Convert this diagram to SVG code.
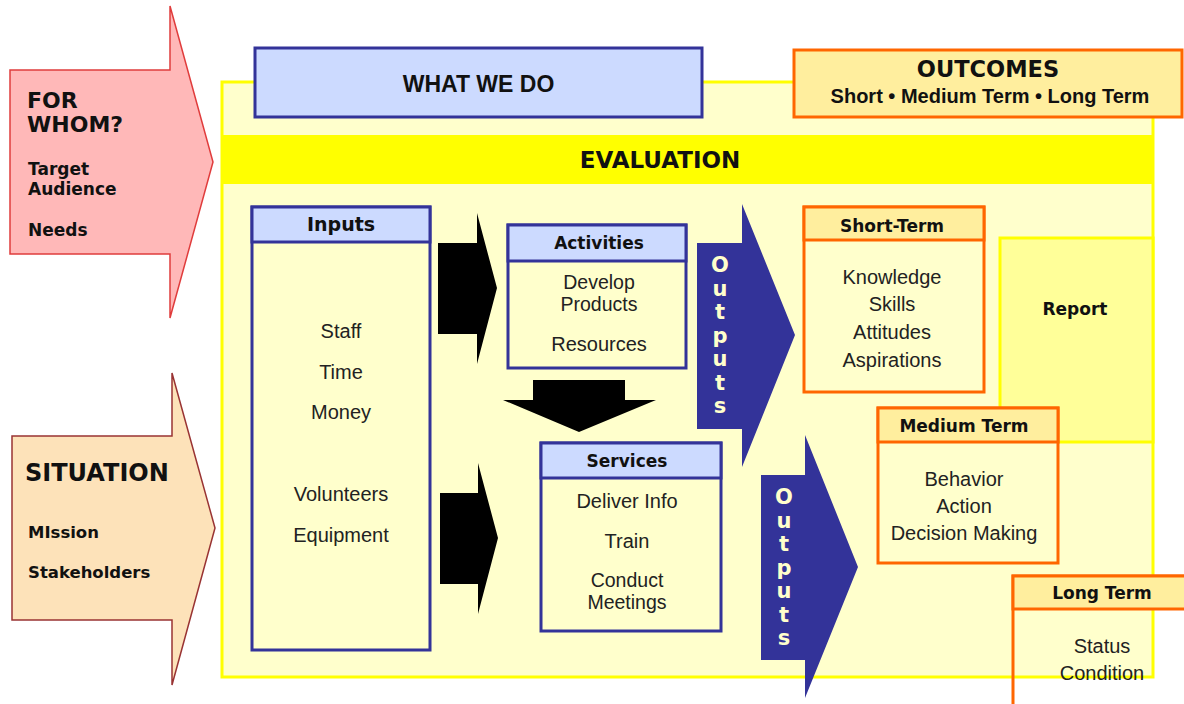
<svg xmlns="http://www.w3.org/2000/svg" width="1184" height="704" viewBox="0 0 1184 704">
  <style>
    .title { font-family: "DejaVu Sans", Verdana, sans-serif; font-weight: bold; fill: #111; }
    .arial-b { font-family: "Liberation Sans", Arial, sans-serif; font-weight: bold; fill: #111; }
    .body { font-family: "Liberation Sans", Arial, sans-serif; font-size: 20px; fill: #222; text-anchor: middle; }
    .tight { font-size: 19.5px; }
    .hdr { font-family: "DejaVu Sans", Verdana, sans-serif; font-weight: bold; font-size: 17px; fill: #111; text-anchor: middle; }
    .blue-frame { fill: #FFFFCC; stroke: #333399; stroke-width: 3; }
    .blue-head { fill: #CCDAFF; stroke: #333399; stroke-width: 3; }
    .orange-frame { fill: #FFFFCC; stroke: #FF6600; stroke-width: 3; }
    .orange-head { fill: #FFEE9E; stroke: #FF6600; stroke-width: 3; }
    .flow { fill: #000; }
    .out-arrow { fill: #333399; }
    .out-letter { font-family: "DejaVu Sans", Verdana, sans-serif; font-weight: bold; font-size: 21px; fill: #FFFFCC; text-anchor: middle; }
  </style>

  <rect width="1184" height="704" fill="#FFFFFF"/>

  <!-- main programme frame -->
  <g id="frame">
    <rect x="222" y="82" width="931" height="595" fill="#FFFFCC" stroke="#FFFF00" stroke-width="3"/>
  </g>

  <g id="evaluation">
    <rect x="221" y="135" width="933" height="49" fill="#FFFF00"/>
    <text class="title" x="660" y="168" font-size="23" text-anchor="middle">EVALUATION</text>
  </g>

  <!-- left-hand context arrows -->
  <g id="for-whom">
    <polygon points="10,70 170,70 170,6 213,162 170,318 170,254 10,254" fill="#FFB8B8" stroke="#E03C3C" stroke-width="1.5"/>
    <text class="title" x="27" y="108" font-size="22">FOR</text>
    <text class="title" x="27" y="132" font-size="22">WHOM?</text>
    <text class="title" x="28" y="175" font-size="17">Target</text>
    <text class="title" x="28" y="195" font-size="17">Audience</text>
    <text class="title" x="28" y="236" font-size="17">Needs</text>
  </g>

  <g id="situation">
    <polygon points="12,436 172,436 172,373 215,528 172,685 172,620 12,620" fill="#FDE2B9" stroke="#993333" stroke-width="1.5"/>
    <text class="title" x="25" y="481" font-size="24">SITUATION</text>
    <text class="title" x="28" y="538" font-size="16.5">MIssion</text>
    <text class="title" x="28" y="578" font-size="16.5">Stakeholders</text>
  </g>

  <g id="what-we-do">
    <rect x="255" y="48" width="447" height="69" fill="#CCDAFF" stroke="#333399" stroke-width="3"/>
    <text class="arial-b" x="478.5" y="92" font-size="23" text-anchor="middle">WHAT WE DO</text>
  </g>

  <g id="outcomes">
    <rect x="794" y="50" width="388" height="67" fill="#FFEE9E" stroke="#FF6600" stroke-width="3"/>
    <text class="title" x="988" y="77" font-size="22.5" text-anchor="middle">OUTCOMES</text>
    <text class="arial-b" x="990" y="103" font-size="20" text-anchor="middle">Short • Medium Term • Long Term</text>
  </g>

  <!-- process boxes -->
  <g id="inputs">
    <rect class="blue-frame" x="252" y="207" width="178" height="443"/>
    <rect class="blue-head" x="252" y="207" width="178" height="35"/>
    <text class="title" x="341" y="231" font-size="19" text-anchor="middle">Inputs</text>
    <text class="body" x="341" y="338">Staff</text>
    <text class="body" x="341" y="379">Time</text>
    <text class="body" x="341" y="419">Money</text>
    <text class="body" x="341" y="501">Volunteers</text>
    <text class="body" x="341" y="542">Equipment</text>
  </g>

  <g id="activities">
    <rect class="blue-frame" x="508" y="225" width="178" height="143"/>
    <rect class="blue-head" x="508" y="225" width="178" height="36"/>
    <text class="hdr" x="599" y="249">Activities</text>
    <text class="body tight" x="599" y="289">Develop</text>
    <text class="body tight" x="599" y="311">Products</text>
    <text class="body" x="599" y="351">Resources</text>
  </g>

  <g id="services">
    <rect class="blue-frame" x="541" y="443" width="180" height="188"/>
    <rect class="blue-head" x="541" y="443" width="180" height="35"/>
    <text class="hdr" x="627" y="467">Services</text>
    <text class="body" x="627" y="508">Deliver Info</text>
    <text class="body" x="627" y="548">Train</text>
    <text class="body tight" x="627" y="587">Conduct</text>
    <text class="body tight" x="627" y="609">Meetings</text>
  </g>

  <!-- outcome boxes -->
  <g id="short-term">
    <rect class="orange-frame" x="804" y="207" width="180" height="185"/>
    <rect class="orange-head" x="804" y="207" width="180" height="33"/>
    <text class="hdr" x="892" y="232">Short-Term</text>
    <text class="body" x="892" y="284">Knowledge</text>
    <text class="body" x="892" y="311">Skills</text>
    <text class="body" x="892" y="339">Attitudes</text>
    <text class="body" x="892" y="367">Aspirations</text>
  </g>

  <g id="report">
    <rect x="1000" y="238" width="153" height="204" fill="#FFFF99" stroke="#FFFF00" stroke-width="3"/>
    <text class="hdr" x="1075" y="315">Report</text>
  </g>

  <g id="medium-term">
    <rect class="orange-frame" x="878" y="408" width="180" height="155"/>
    <rect class="orange-head" x="878" y="408" width="180" height="34"/>
    <text class="hdr" x="964" y="432">Medium Term</text>
    <text class="body" x="964" y="486">Behavior</text>
    <text class="body" x="964" y="513">Action</text>
    <text class="body" x="964" y="540">Decision Making</text>
  </g>

  <g id="long-term">
    <path d="M1013,710 V576 H1190" fill="none" stroke="#FF6600" stroke-width="3"/>
    <rect class="orange-head" x="1013" y="576" width="180" height="33"/>
    <text class="hdr" x="1102" y="599">Long Term</text>
    <text class="body" x="1102" y="653">Status</text>
    <text class="body" x="1102" y="680">Condition</text>
  </g>

  <!-- connectors: flow arrows and output arrows -->
  <g id="connectors">
    <polygon class="flow" points="438,243 477,243 477,213 497,288 477,364 477,334 438,334"/>
    <polygon class="flow" points="440,493 478,493 478,463 498,538 478,614 478,584 440,584"/>
    <polygon class="flow" points="533,380 625,380 625,400 656,400 579,432 503,400 533,400"/>

    <polygon class="out-arrow" points="697,243 742,243 742,204 795,335 742,467 742,429 697,429"/>
    <text class="out-letter" x="720" y="272">O</text>
    <text class="out-letter" x="720" y="295.5">u</text>
    <text class="out-letter" x="720" y="319">t</text>
    <text class="out-letter" x="720" y="342.5">p</text>
    <text class="out-letter" x="720" y="366">u</text>
    <text class="out-letter" x="720" y="389.5">t</text>
    <text class="out-letter" x="720" y="413">s</text>

    <polygon class="out-arrow" points="761,475 805,475 805,435 858,567 805,698 805,660 761,660"/>
    <text class="out-letter" x="784" y="504">O</text>
    <text class="out-letter" x="784" y="527.5">u</text>
    <text class="out-letter" x="784" y="551">t</text>
    <text class="out-letter" x="784" y="574.5">p</text>
    <text class="out-letter" x="784" y="598">u</text>
    <text class="out-letter" x="784" y="621.5">t</text>
    <text class="out-letter" x="784" y="645">s</text>
  </g>
</svg>
